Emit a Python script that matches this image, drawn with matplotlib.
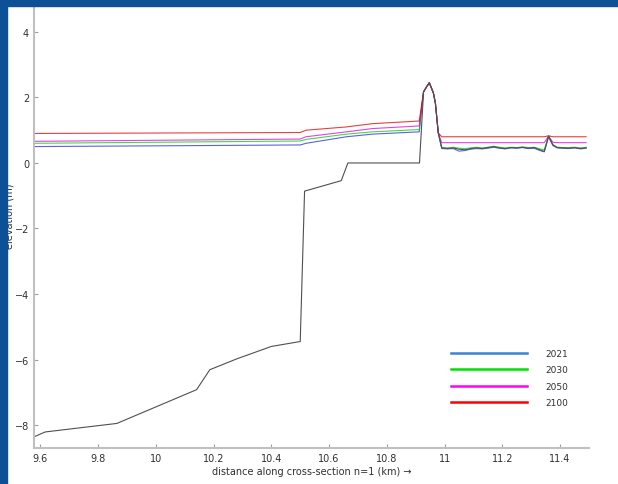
import matplotlib
matplotlib.use('Agg')
import matplotlib.pyplot as plt
from matplotlib.lines import Line2D
from matplotlib.patches import Rectangle
from matplotlib.transforms import IdentityTransform

# bed profile along the cross-section
x_bed = [9.575, 9.617, 9.865, 10.141, 10.187, 10.28, 10.40, 10.50, 10.515,
         10.642, 10.665, 10.913, 10.927, 10.938, 10.947, 10.961, 10.968, 10.978,
         10.99, 11.01, 11.03, 11.05, 11.07, 11.09, 11.11, 11.13, 11.15, 11.17,
         11.19, 11.21, 11.23, 11.25, 11.27, 11.29, 11.31, 11.33, 11.345, 11.36,
         11.375, 11.39, 11.41, 11.43, 11.45, 11.47, 11.49]
y_bed = [-8.37, -8.21, -7.95, -6.92, -6.31, -5.98, -5.60, -5.45, -0.86,
         -0.54, 0.0, 0.0, 2.17, 2.33, 2.45, 2.14, 1.83, 0.92,
         0.46, 0.44, 0.46, 0.42, 0.40, 0.44, 0.46, 0.44, 0.47, 0.50,
         0.46, 0.44, 0.47, 0.46, 0.48, 0.45, 0.47, 0.40, 0.35, 0.82,
         0.55, 0.47, 0.46, 0.45, 0.47, 0.44, 0.46]

# water levels per scenario year
x_water = [9.575, 10.50, 10.52, 10.66, 10.75, 10.912, 10.927, 10.938, 10.947,
           10.961, 10.968, 10.978, 10.99, 11.01, 11.03, 11.05, 11.07, 11.09,
           11.11, 11.13, 11.15, 11.17, 11.19, 11.21, 11.23, 11.25, 11.27, 11.29,
           11.31, 11.33, 11.345, 11.36, 11.375, 11.39, 11.41, 11.43, 11.45,
           11.47, 11.49]
lvl_2021 = [0.50, 0.55, 0.60, 0.80, 0.88, 0.95, 2.17, 2.33, 2.45,
            2.14, 1.83, 0.92, 0.44, 0.43, 0.44, 0.36, 0.38, 0.42,
            0.44, 0.43, 0.45, 0.48, 0.45, 0.43, 0.46, 0.45, 0.47, 0.44,
            0.45, 0.38, 0.34, 0.80, 0.53, 0.46, 0.45, 0.44, 0.46,
            0.43, 0.45]
lvl_2030 = [0.60, 0.67, 0.72, 0.88, 0.95, 1.02, 2.17, 2.33, 2.45,
            2.14, 1.83, 0.92, 0.48, 0.46, 0.48, 0.45, 0.44, 0.46,
            0.48, 0.46, 0.48, 0.51, 0.48, 0.46, 0.48, 0.47, 0.49, 0.47,
            0.48, 0.43, 0.40, 0.82, 0.56, 0.48, 0.47, 0.47, 0.48,
            0.46, 0.48]
lvl_2050 = [0.66, 0.73, 0.80, 0.95, 1.05, 1.13, 2.17, 2.33, 2.45,
            2.14, 1.83, 0.92, 0.62, 0.62, 0.62, 0.62, 0.62, 0.62,
            0.62, 0.62, 0.62, 0.62, 0.62, 0.62, 0.62, 0.62, 0.62, 0.62,
            0.62, 0.62, 0.62, 0.82, 0.63, 0.62, 0.62, 0.62, 0.62,
            0.62, 0.62]
lvl_2100 = [0.90, 0.93, 1.00, 1.10, 1.20, 1.28, 2.17, 2.33, 2.45,
            2.14, 1.83, 0.92, 0.80, 0.80, 0.80, 0.80, 0.80, 0.80,
            0.80, 0.80, 0.80, 0.80, 0.80, 0.80, 0.80, 0.80, 0.80, 0.80,
            0.80, 0.80, 0.80, 0.83, 0.80, 0.80, 0.80, 0.80, 0.80,
            0.80, 0.80]

years = ['2021', '2030', '2050', '2100']
plot_colors = ['#2030d0', '#00d000', '#e000e0', '#e00000']
legend_colors = ['#3a82d2', '#00e000', '#ff00ff', '#ff0000']
xticks = [9.6, 9.8, 10, 10.2, 10.4, 10.6, 10.8, 11, 11.2, 11.4]
yticks = [-8, -6, -4, -2, 0, 2, 4]

fig = plt.figure(figsize=(6.18, 4.85), dpi=100)
ax = fig.add_axes([34 / 618, 36 / 485, 555 / 618, 440 / 485])

levels = [lvl_2021, lvl_2030, lvl_2050, lvl_2100]
for lvl, c in zip(levels, plot_colors):
    ax.plot(x_water, lvl, color=c, lw=0.8, alpha=0.75)
ax.plot(x_bed, y_bed, color='#505050', lw=0.8)

ax.set_xlim(9.578, 11.5)
ax.set_ylim(-8.7, 4.73)
ax.set_xticks(xticks)
ax.set_xticklabels(['9.6', '9.8', '10', '10.2', '10.4', '10.6', '10.8', '11', '11.2', '11.4'])
ax.set_yticks(yticks)

for s in ['top', 'right']:
    ax.spines[s].set_visible(False)
for s in ['left', 'bottom']:
    ax.spines[s].set_color('#c0c0c0')
    ax.spines[s].set_linewidth(1.5)
ax.tick_params(direction='in', length=3, width=0.8, color='#a0a0a0',
               labelsize=7, labelcolor='#303030')

ax.set_xlabel('distance along cross-section n=1 (km) \u2192', fontsize=7, color='#303030', labelpad=2)
ax.set_ylabel('elevation (m)', fontsize=7, color='#303030')
ax.yaxis.set_label_coords(-0.036, 0.53)

handles = [Line2D([], [], color=c, lw=1.8) for c in legend_colors]
ax.legend(handles, years, loc='upper left', bbox_to_anchor=(451, 485 - 350),
          bbox_transform=IdentityTransform(), borderaxespad=0, borderpad=0,
          frameon=False, fontsize=6.5, handlelength=8.4, handletextpad=2.0,
          labelspacing=0.82, labelcolor='#303030')

# blue frame at top and left edge
blue = '#0c5195'
fig.patches.append(Rectangle((0, 0), 7 / 618, 1, transform=fig.transFigure,
                             color=blue, zorder=10))
fig.patches.append(Rectangle((0, 1 - 7 / 485), 1, 7 / 485, transform=fig.transFigure,
                             color=blue, zorder=10))

fig.savefig('out.png', dpi=100)
